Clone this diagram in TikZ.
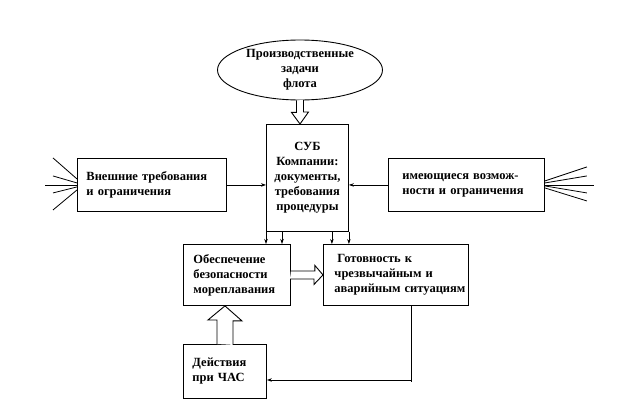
\documentclass[tikz,border=0pt]{standalone}
\usepackage{fontspec}
\setmainfont{Liberation Serif}
\usetikzlibrary{shapes.geometric,arrows.meta}
\begin{document}
\begin{tikzpicture}[x=1pt,y=-1pt, line width=0.9pt,
  txt/.style={font=\bfseries\fontsize{12.5}{15}\selectfont},
  box/.style={draw, rectangle, txt, inner ysep=0pt, align=left, anchor=north west},
  thinarrow/.style={-{Stealth[length=5pt,width=3.5pt]}, line width=0.7pt},
  hollow/.style={draw, fill=white, line width=0.9pt, line join=miter},
  fanline/.style={line width=0.8pt}]
\useasboundingbox (0,0) rectangle (630,420);

% nodes
\node[ellipse, draw, txt, minimum width=165pt, minimum height=60pt, inner sep=0pt, align=center] (el) at (300,70)
  {Производственные\\задачи\\флота};
\node[box, align=center, inner xsep=0pt, minimum width=82pt, minimum height=107pt] (sub) at (266,124)
  {СУБ\\Компании:\\документы,\\требования\\процедуры};
\node[box, minimum width=149pt, minimum height=53pt, inner xsep=9pt, text width=131pt] (vn) at (77,158)
  {\mbox{Внешние требования}\\\mbox{и ограничения}};
\node[box, minimum width=156pt, minimum height=53pt, inner xsep=14pt, text width=128pt] (im) at (388,158)
  {\mbox{имеющиеся возмож-}\\\mbox{ности и ограничения}};
\node[box, minimum width=107pt, minimum height=61pt, inner xsep=10pt, text width=87pt] (ob) at (183,244)
  {\mbox{Обеспечение}\\\mbox{безопасности}\\\mbox{мореплавания}};
\node[box, minimum width=145pt, minimum height=61pt, inner xsep=11pt, text width=123pt] (gt) at (323,244)
  {\mbox{\hspace*{3pt}Готовность к}\\\mbox{чрезвычайным и}\\\mbox{аварийным ситуациям}};
\node[box, minimum width=83pt, minimum height=54pt, inner xsep=9pt, text width=65pt] (de) at (183,344)
  {\mbox{Действия}\\\mbox{при ЧАС}};

% thin arrows into SUB
\draw[thinarrow] (vn.east) -- (vn.east -| sub.west);
\draw[thinarrow] (im.west) -- (im.west -| sub.east);

% arrows from SUB down
\coordinate (s1) at ([xshift=16pt]sub.south west);
\coordinate (s2) at ([xshift=-17pt]sub.south east);
\draw[thinarrow] (sub.south west) -- (sub.south west |- ob.north);
\draw[thinarrow] (s1) -- (s1 |- ob.north);
\draw[thinarrow] (s2) -- (s2 |- gt.north);
\draw[thinarrow] (sub.south east) -- (sub.south east |- gt.north);

% feedback line
\coordinate (fbc) at (411.5,380);
\draw[line width=0.7pt] (fbc |- gt.south) -- ([yshift=-2pt]fbc);
\draw[thinarrow] (fbc) -- (fbc -| de.east);

% hollow arrows
\draw[hollow] ([xshift=-3.5pt]el.south) -- ++(0,12) -- ++(-5,0) -- (el.south |- sub.north)
  -- ++(8.5,-12) -- ++(-5,0) -- ++(0,-12);
\draw[hollow] ([xshift=-8pt]de.north) -- ++(0,-24) -- ++(-9,0) -- (de.north |- ob.south)
  -- ++(17,15) -- ++(-9,0) -- ++(0,24);
\draw[hollow] ([yshift=4pt]ob.east) -- ++(24,0) -- ++(0,-5.5) -- (ob.east -| gt.west)
  -- ++(-9,9.5) -- ++(0,-5.5) -- ++(-24,0);

% fans
\draw[fanline] (vn.west) ++(0,-6) -- ++(-24,-21);
\draw[fanline] (vn.west) ++(0,-2) -- ++(-24,-7);
\draw[fanline] (vn.west) -- ++(-32,0);
\draw[fanline] (vn.west) ++(0,2) -- ++(-24,6);
\draw[fanline] (vn.west) ++(0,5) -- ++(-24,20);
\draw[fanline] (im.east) ++(0,-4) -- ++(42,-14);
\draw[fanline] (im.east) ++(0,-2) -- ++(42,-7);
\draw[fanline] (im.east) -- ++(49,0);
\draw[fanline] (im.east) ++(0,1) -- ++(42,7);
\draw[fanline] (im.east) ++(0,3) -- ++(42,13);
\end{tikzpicture}
\end{document}
